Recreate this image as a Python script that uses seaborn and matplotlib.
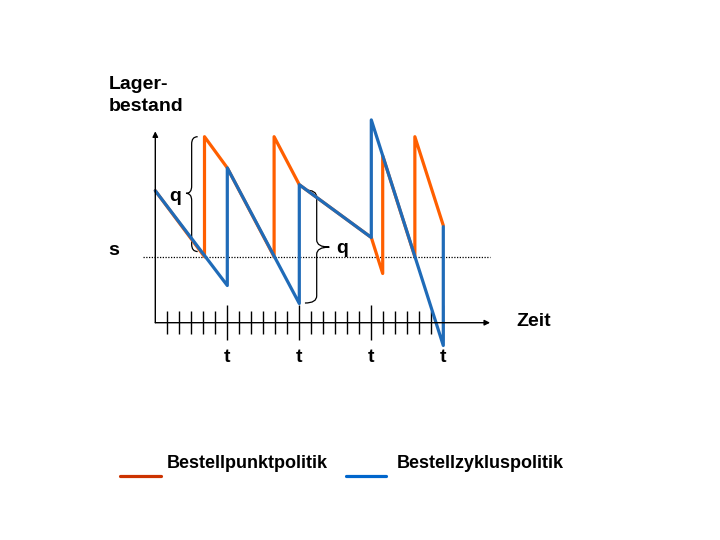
import numpy as np
import pandas as pd
import seaborn as sns
import matplotlib.pyplot as plt
from matplotlib.path import Path
from matplotlib.patches import PathPatch

# Bestellzykluspolitik (blau): feste Zeitpunkte t, Menge q
zyklus_x = [0, 6, 6, 12, 12, 18, 18, 24, 24]
zyklus_y = [11.0, 3.1, 12.9, 1.6, 11.5, 7.1, 16.9, -1.9, 8.0]

# Bestellpunktpolitik (orange): Bestellung bei Erreichen von s
punkt_x = [0, 4.1, 4.1, 6, 9.9, 9.9, 12, 18, 18.95, 18.95, 21.63, 21.63, 24]
punkt_y = [11.0, 5.5, 15.5, 12.9, 5.5, 15.5, 11.5, 7.1, 4.1, 13.9, 5.5, 15.5, 8.1]

s_level = 5.5
n_ticks = 24
t_ticks = [6, 12, 18, 24]
legend_labels = ["Bestellpunktpolitik", "Bestellzykluspolitik"]

ORANGE = "#FF5F00"
BLUE = "#1F6BB8"

sns.set_style("white")
plt.rcParams['font.family'] = ['Liberation Sans', 'DejaVu Sans']
plt.rcParams['font.weight'] = 'bold'
plt.rcParams['text.color'] = 'black'

fig = plt.figure(figsize=(7.2, 5.4), dpi=100)
ax = fig.add_axes([0, 0, 1, 1])
# 1 Einheit = 12 px in beiden Richtungen
ax.set_xlim(-155.3 / 12, (720 - 155.3) / 12)
ax.set_ylim(-(540 - 322.7) / 12, 322.7 / 12)
ax.axis('off')


def brace(ax, xe, xs, xt, y0, y1, ym, r=0.6):
    verts = [(xe, y1), (xs, y1), (xs, y1 - r),
             (xs, ym + r), (xs, ym), (xt, ym),
             (xs, ym), (xs, ym - r),
             (xs, y0 + r), (xs, y0), (xe, y0)]
    codes = [Path.MOVETO, Path.CURVE3, Path.CURVE3,
             Path.LINETO, Path.CURVE3, Path.CURVE3,
             Path.CURVE3, Path.CURVE3,
             Path.LINETO, Path.CURVE3, Path.CURVE3]
    ax.add_patch(PathPatch(Path(verts, codes), fill=False, lw=0.9, color='black'))


# Achsen
arrow = dict(arrowstyle='-|>', lw=1, color='black', mutation_scale=8, shrinkA=0, shrinkB=0)
ax.annotate('', xy=(0, 15.95), xytext=(0, 0), arrowprops=arrow)
ax.annotate('', xy=(27.9, 0), xytext=(0, 0), arrowprops=arrow)
short = [i for i in range(1, n_ticks + 1) if i not in t_ticks]
ax.vlines(short, -0.95, 0.95, color='black', lw=1)
ax.vlines(t_ticks, -1.45, 1.45, color='black', lw=1)

# Meldebestand s
ax.plot([-1.03, 27.9], [s_level, s_level], color='black', lw=0.9, ls=(0, (1, 1.2)))

# Bestandsverläufe
sns.lineplot(x=punkt_x, y=punkt_y, sort=False, estimator=None, color=ORANGE, lw=2.3, ax=ax)
sns.lineplot(x=zyklus_x, y=zyklus_y, sort=False, estimator=None, color=BLUE, lw=2.3, ax=ax)

# Klammern q
brace(ax, 3.53, 3.03, 2.56, 5.93, 15.5, 10.78)
brace(ax, 12.47, 13.45, 14.5, 1.64, 11.06, 6.3)

fs = 14
ax.text(-3.86, 20.56, "Lager-\nbestand", fontsize=fs, fontweight='bold', ha='left', va='top', linespacing=1.35)
ax.text(-3.44, 6.05, "s", fontsize=fs, fontweight='bold', ha='center', va='center')
ax.text(1.64, 10.55, "q", fontsize=fs, fontweight='bold', ha='center', va='center')
ax.text(15.56, 6.2, "q", fontsize=fs, fontweight='bold', ha='center', va='center')
ax.text(30.05, 0.06, "Zeit", fontsize=fs, fontweight='bold', ha='left', va='center')
for t in t_ticks:
    ax.text(t, -2.86, "t", fontsize=fs, fontweight='bold', ha='center', va='center')

# Legende
ax.plot([-2.94, 0.45], [-12.78, -12.78], color="#CC3300", lw=2.3)
ax.text(0.97, -11.7, legend_labels[0], fontsize=13, fontweight='bold', ha='left', va='center')
ax.plot([15.89, 19.2], [-12.78, -12.78], color="#0066CC", lw=2.3)
ax.text(20.14, -11.7, legend_labels[1], fontsize=13, fontweight='bold', ha='left', va='center')

fig.savefig("out.png", dpi=100, facecolor='white')
